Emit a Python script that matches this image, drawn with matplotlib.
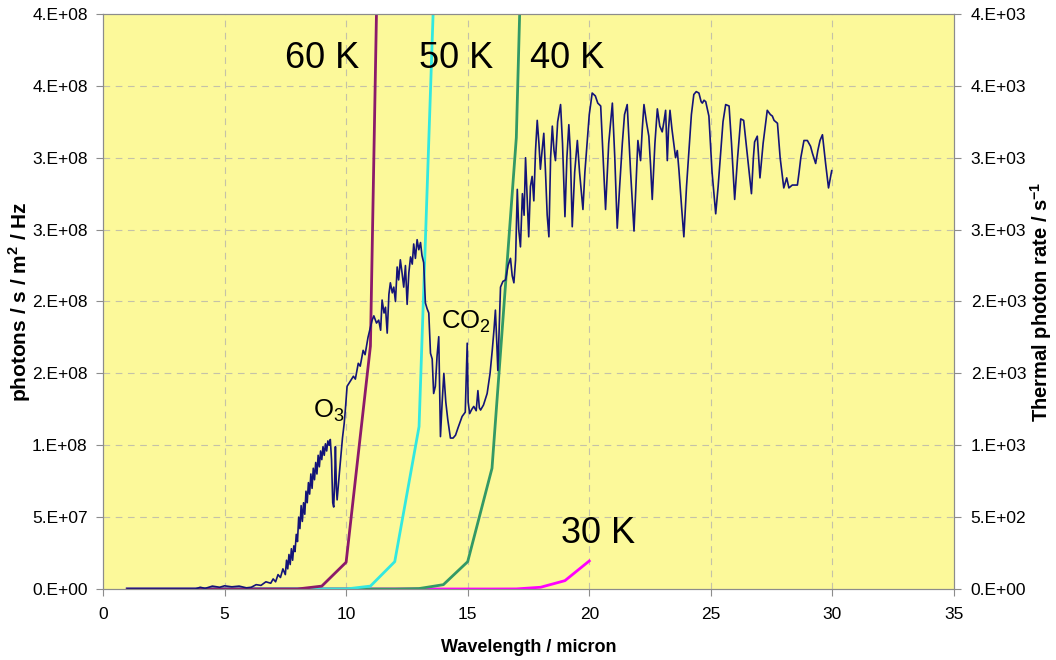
import matplotlib
matplotlib.use("Agg")
import matplotlib.pyplot as plt
import numpy as np

plt.rcParams['font.family'] = ['Liberation Sans', 'DejaVu Sans']
plt.rcParams['mathtext.fontset'] = 'custom'
plt.rcParams['mathtext.rm'] = 'Liberation Sans'
plt.rcParams['mathtext.bf'] = 'Liberation Sans:bold'

# measured spectrum (photons / s / m2 / Hz, in units of 1e8)
spec_x = [1.0, 2.0, 3.0, 3.8, 4.0, 4.2, 4.5, 4.8, 5.0, 5.3, 5.6, 5.9, 6.1, 6.3, 6.5, 6.7, 6.9, 7.0, 7.1, 7.2,
          7.3, 7.4, 7.5, 7.55, 7.6, 7.65, 7.7, 7.75, 7.8, 7.85, 7.9, 7.95, 8.0, 8.05, 8.1, 8.15, 8.2, 8.25,
          8.3, 8.35, 8.4, 8.45, 8.5, 8.55, 8.6, 8.65, 8.7, 8.75, 8.8, 8.85, 8.9, 8.95, 9.0, 9.05, 9.1, 9.15,
          9.2, 9.25, 9.3, 9.35, 9.4, 9.45, 9.49, 9.53, 9.56, 9.6, 9.63, 9.68, 9.72, 9.8, 9.85, 9.92, 9.97,
          10.04, 10.15, 10.3, 10.38, 10.5, 10.58, 10.7, 10.78, 10.9, 11.0, 11.07, 11.14, 11.25, 11.34, 11.42,
          11.48, 11.56, 11.62, 11.69, 11.76, 11.82, 11.9, 11.96, 12.03, 12.1, 12.16, 12.23, 12.3, 12.37,
          12.44, 12.51, 12.58, 12.65, 12.72, 12.78, 12.85, 12.92, 12.99, 13.06, 13.12, 13.19, 13.26, 13.33,
          13.4, 13.47, 13.54, 13.6, 13.67, 13.74, 13.81, 13.88, 13.95, 14.02, 14.1, 14.18, 14.29, 14.4, 14.5,
          14.6, 14.77, 14.9, 14.98, 15.02, 15.08, 15.17, 15.25, 15.35, 15.42, 15.48, 15.53, 15.65, 15.8,
          15.92, 16.01, 16.08, 16.14, 16.2, 16.24, 16.3, 16.35, 16.45, 16.56, 16.66, 16.76, 16.83, 16.9,
          16.97, 17.04, 17.1, 17.17, 17.25, 17.32, 17.38, 17.45, 17.51, 17.58, 17.65, 17.72, 17.79, 17.86,
          17.93, 17.99, 18.06, 18.13, 18.2, 18.27, 18.34, 18.41, 18.48, 18.55, 18.61, 18.7, 18.82, 18.9,
          19.0, 19.08, 19.16, 19.22, 19.3, 19.4, 19.51, 19.6, 19.74, 19.82, 19.92, 20.0, 20.12, 20.25,
          20.35, 20.47, 20.57, 20.67, 20.8, 20.95, 21.05, 21.15, 21.25, 21.36, 21.45, 21.56, 21.7, 21.84,
          21.92, 22.0, 22.11, 22.18, 22.25, 22.35, 22.45, 22.52, 22.59, 22.7, 22.8, 22.9, 23.0, 23.07,
          23.14, 23.21, 23.26, 23.32, 23.4, 23.55, 23.62, 23.69, 23.8, 23.89, 24.0, 24.1, 24.2, 24.3, 24.4,
          24.51, 24.6, 24.65, 24.72, 24.79, 24.92, 25.05, 25.2, 25.3, 25.4, 25.5, 25.61, 25.75, 25.85,
          25.98, 26.1, 26.23, 26.35, 26.45, 26.67, 26.75, 26.8, 26.91, 27.02, 27.15, 27.32, 27.45, 27.53,
          27.6, 27.74, 27.85, 28.0, 28.12, 28.21, 28.35, 28.56, 28.63, 28.7, 28.83, 28.97, 29.1, 29.18,
          29.31, 29.4, 29.49, 29.59, 29.66, 29.72, 29.84, 29.97]
spec_y = [0, 0, 0, 0, 0.012, 0.004, 0.02, 0.012, 0.022, 0.015, 0.02, 0.008, 0.012, 0.03, 0.025, 0.05, 0.04,
          0.07, 0.05, 0.1, 0.08, 0.14, 0.1, 0.2, 0.14, 0.24, 0.17, 0.28, 0.2, 0.3, 0.26, 0.38, 0.33, 0.5,
          0.42, 0.58, 0.47, 0.6, 0.52, 0.68, 0.6, 0.74, 0.66, 0.8, 0.7, 0.84, 0.76, 0.88, 0.8, 0.93, 0.85,
          0.96, 0.9, 0.99, 0.93, 1.01, 0.96, 1.03, 1.0, 1.04, 0.9, 0.6, 0.57, 0.75, 0.99, 0.7, 0.62, 0.72,
          0.8, 0.95, 1.05, 1.15, 1.25, 1.41, 1.44, 1.48, 1.46, 1.57, 1.55, 1.66, 1.63, 1.75, 1.82, 1.87,
          1.9, 1.85, 1.87, 1.80, 2.01, 1.92, 1.96, 1.78, 2.05, 2.13, 2.06, 2.10, 2.0, 2.24, 2.15, 2.29, 2.2,
          2.10, 2.25, 1.98, 2.2, 2.31, 2.26, 2.40, 2.3, 2.43, 2.36, 2.41, 2.32, 2.27, 1.99, 1.95, 1.92,
          1.64, 1.6, 1.36, 1.41, 1.62, 1.755, 1.06, 1.3, 1.5, 1.3, 1.18, 1.05, 1.05, 1.07, 1.12, 1.2, 1.23,
          1.71, 1.3, 1.22, 1.25, 1.27, 1.24, 1.38, 1.26, 1.245, 1.28, 1.36, 1.5, 1.66, 1.8, 1.94, 1.7, 1.52,
          1.85, 2.10, 2.14, 2.15, 2.25, 2.30, 2.18, 2.13, 2.29, 2.78, 2.5, 2.38, 2.75, 2.6, 3.0, 2.7, 2.45,
          2.8, 2.87, 2.7, 3.05, 3.26, 3.1, 2.92, 3.05, 3.17, 2.9, 2.6, 2.45, 3.0, 3.22, 3.05, 2.98, 3.25,
          3.37, 3.1, 2.59, 3.0, 3.23, 3.05, 2.52, 2.9, 3.12, 2.9, 2.64, 2.9, 3.12, 3.3, 3.45, 3.43, 3.38,
          3.36, 3.0, 2.64, 3.1, 3.38, 3.0, 2.51, 2.8, 3.1, 3.3, 3.37, 2.9, 2.49, 2.8, 3.12, 2.98, 3.2, 3.37,
          3.25, 3.15, 2.95, 2.71, 3.1, 3.34, 3.22, 3.18, 3.25, 3.33, 2.98, 3.2, 3.33, 3.2, 3.0, 3.05, 2.91,
          2.65, 2.45, 2.8, 3.05, 3.3, 3.44, 3.46, 3.45, 3.39, 3.38, 3.4, 3.39, 3.29, 2.9, 2.61, 2.8, 3.03,
          3.25, 3.37, 3.36, 3.1, 2.71, 3.0, 3.27, 3.26, 3.1, 2.75, 3.0, 3.11, 3.15, 2.86, 3.1, 3.33, 3.3,
          3.29, 3.26, 3.24, 3.0, 2.79, 2.86, 2.79, 2.81, 2.81, 2.9, 3.0, 3.12, 3.12, 3.08, 3.03, 2.96, 3.05,
          3.12, 3.16, 3.05, 2.96, 2.79, 2.91]

# thermal photon rate (s^-1) at integer wavelengths
t60_x = [1, 2, 3, 4, 5, 6, 7, 8, 9, 10, 11, 12]
t60_y = [0, 0, 0, 0, 0, 0, 0, 0, 20, 186, 1690, 11000]
t50_x = [1, 2, 3, 4, 5, 6, 7, 8, 9, 10, 11, 12, 13, 14]
t50_y = [0, 0, 0, 0, 0, 0, 0, 0, 0, 0, 20, 190, 1130, 6100]
t40_x = [1, 2, 3, 4, 5, 6, 7, 8, 9, 10, 11, 12, 13, 14, 15, 16, 17, 18]
t40_y = [0, 0, 0, 0, 0, 0, 0, 0, 0, 0, 0, 0, 3, 30, 190, 840, 3140, 9400]
t30_x = [1, 2, 3, 4, 5, 6, 7, 8, 9, 10, 11, 12, 13, 14, 15, 16, 17, 18, 19, 20]
t30_y = [0, 0, 0, 0, 0, 0, 0, 0, 0, 0, 0, 0, 0, 0, 0, 0, 0.5, 12, 58, 195]

left_ticks = [0, 5e7, 1e8, 1.5e8, 2e8, 2.5e8, 3e8, 3.5e8, 4e8]
left_labels = ['0.E+00', '5.E+07', '1.E+08', '2.E+08', '2.E+08', '3.E+08', '3.E+08', '4.E+08', '4.E+08']
right_ticks = [0, 500, 1000, 1500, 2000, 2500, 3000, 3500, 4000]
right_labels = ['0.E+00', '5.E+02', '1.E+03', '2.E+03', '2.E+03', '3.E+03', '3.E+03', '4.E+03', '4.E+03']

fig = plt.figure(figsize=(10.56, 6.6), dpi=100)
ax = fig.add_axes([0.0975, 0.1076, 0.8059, 0.8712])
ax2 = ax.twinx()

ax.set_zorder(ax2.get_zorder() + 1)
ax.patch.set_visible(False)
ax2.patch.set_visible(True)
ax2.patch.set_facecolor('#FCF99A')

ax2.plot(t30_x, t30_y, color='#FF00FF', lw=2)
ax2.plot(t40_x, t40_y, color='#339966', lw=2)
ax2.plot(t50_x, t50_y, color='#33E8E0', lw=2)
ax2.plot(t60_x, t60_y, color='#8C1A6A', lw=2)

ax.plot(spec_x, np.array(spec_y) * 1e8, color='#141478', lw=1.2)

ax.set_xlim(0, 35)
ax.set_ylim(0, 4e8)
ax2.set_ylim(0, 4000)
ax.set_xticks(range(0, 36, 5))
ax.set_yticks(left_ticks)
ax.set_yticklabels(left_labels)
ax2.set_yticks(right_ticks)
ax2.set_yticklabels(right_labels)

for x in range(5, 35, 5):
    ax2.axvline(x, color='#C4C2A8', lw=0.8, ls=(0, (6, 5)), zorder=0)
for y in right_ticks[1:-1]:
    ax2.axhline(y, color='#C4C2A8', lw=0.8, ls=(0, (6, 5)), zorder=0)

for a in (ax, ax2):
    for s in a.spines.values():
        s.set_color('#8C8C8C')
    a.tick_params(colors='#8C8C8C', labelcolor='black', labelsize=12.5, length=5, direction='out')
ax.tick_params(axis='x', pad=8)
ax.tick_params(axis='y', pad=6)
ax2.tick_params(axis='y', pad=7)

ax.set_xlabel('Wavelength / micron', fontsize=13, fontweight='bold', labelpad=12)
ax.set_ylabel(r'photons / s / m$^\mathbf{2}$ / Hz', fontsize=15, fontweight='bold', labelpad=-1)
ax2.set_ylabel(r'Thermal photon rate / s$^\mathbf{-1}$', fontsize=14.5, fontweight='bold', labelpad=1)

ax.text(9.02, 3.69e8, '60 K', fontsize=26, ha='center', va='center')
ax.text(14.54, 3.69e8, '50 K', fontsize=26, ha='center', va='center')
ax.text(19.1, 3.69e8, '40 K', fontsize=26, ha='center', va='center')
ax.text(20.38, 0.383e8, '30 K', fontsize=26, ha='center', va='center')
ax.text(8.65, 1.24e8, r'O$_\mathregular{3}$', fontsize=18.5, va='center')
ax.text(13.9, 1.86e8, r'CO$_\mathregular{2}$', fontsize=18.5, va='center')

fig.savefig('out.png', dpi=100)
